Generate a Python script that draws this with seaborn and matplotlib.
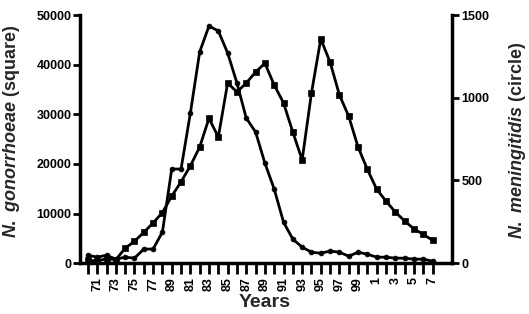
import matplotlib
matplotlib.use("Agg")
import matplotlib.pyplot as plt
import numpy as np
import pandas as pd
import seaborn as sns

# ---- data ----
years = list(range(1970, 2008))
gonorrhoeae = [600, 400, 900, 700, 3000, 4400, 6200, 8100, 10200, 13500,
               16400, 19600, 23400, 29200, 25400, 36300, 34500, 36300, 38500, 40300,
               35900, 32300, 26400, 20800, 34300, 45200, 40500, 33900, 29600, 23400,
               18900, 14900, 12500, 10300, 8500, 6900, 5800, 4600]
meningitidis = [48, 36, 48, 24, 36, 30, 85, 85, 188, 569,
                569, 907, 1277, 1434, 1404, 1271, 1089, 877, 793, 605,
                448, 248, 145, 97, 66, 60, 73, 66, 42, 66,
                54, 36, 36, 30, 30, 24, 24, 12]
odd_labels = ['71', '73', '75', '77', '89', '81', '83', '85', '87', '89',
              '91', '93', '95', '97', '99', '1', '3', '5', '7']
left_ticks = [0, 10000, 20000, 30000, 40000, 50000]
right_ticks = [0, 500, 1000, 1500]

df = pd.DataFrame({"year": years, "gon": gonorrhoeae, "men": meningitidis})

sns.set_style("ticks")
plt.rcParams['font.family'] = ['Liberation Sans', 'DejaVu Sans']
plt.rcParams['font.weight'] = 'bold'
plt.rcParams['mathtext.fontset'] = 'custom'
plt.rcParams['mathtext.it'] = 'Liberation Sans:italic:bold'
plt.rcParams['mathtext.rm'] = 'Liberation Sans:bold'

fig = plt.figure(figsize=(5.29, 3.14), dpi=100)
ax = fig.add_axes([0.151, 0.162, 0.703, 0.79])

sns.lineplot(data=df, x="year", y="gon", ax=ax, color="black", marker="s",
             markersize=4.5, linewidth=2, markeredgecolor="black", markeredgewidth=0.5)
ax2 = ax.twinx()
sns.lineplot(data=df, x="year", y="men", ax=ax2, color="black", marker="o",
             markersize=3.5, linewidth=2, markeredgecolor="black", markeredgewidth=0.5)

ax.set_xlim(1969.14, 2009.06)
ax.set_ylim(0, 50000)
ax2.set_ylim(0, 1500)

xt_labels = []
i = 0
for y in years:
    if y % 2 == 1:
        xt_labels.append(odd_labels[i]); i += 1
    else:
        xt_labels.append('')
ax.set_xticks(years)
ax.set_xticklabels(xt_labels, rotation=90, fontsize=9, fontweight='bold')
ax.set_yticks(left_ticks)
ax.set_yticklabels([str(v) for v in left_ticks], fontsize=9, fontweight='bold')
ax2.set_yticks(right_ticks)
ax2.set_yticklabels([str(v) for v in right_ticks], fontsize=9, fontweight='bold')

for a in (ax, ax2):
    a.spines['top'].set_visible(False)
    for s in ('left', 'right', 'bottom'):
        a.spines[s].set_linewidth(2.5)
        a.spines[s].set_color('black')
ax.spines['right'].set_visible(False)
ax2.spines['left'].set_visible(False)
ax2.spines['bottom'].set_visible(False)

ax.tick_params(axis='x', length=8, width=2, pad=2, colors='black')
ax.tick_params(axis='y', length=5, width=2, pad=1, colors='black')
ax2.tick_params(axis='y', length=5, width=2, pad=2, colors='black')

ax.set_xlabel("Years", fontsize=14, fontweight='bold')
ax.xaxis.set_label_coords(0.497, -0.125)
ax.set_ylabel(r"$\mathit{N.\ gonorrhoeae}$ (square)", fontsize=13, fontweight='bold')
ax.yaxis.set_label_coords(-0.155, 0.53)
ax2.set_ylabel(r"$\mathit{N.\ meningitidis}$ (circle)", fontsize=13, fontweight='bold')
ax2.yaxis.set_label_coords(1.148, 0.495)

fig.savefig("out.png", dpi=100)
